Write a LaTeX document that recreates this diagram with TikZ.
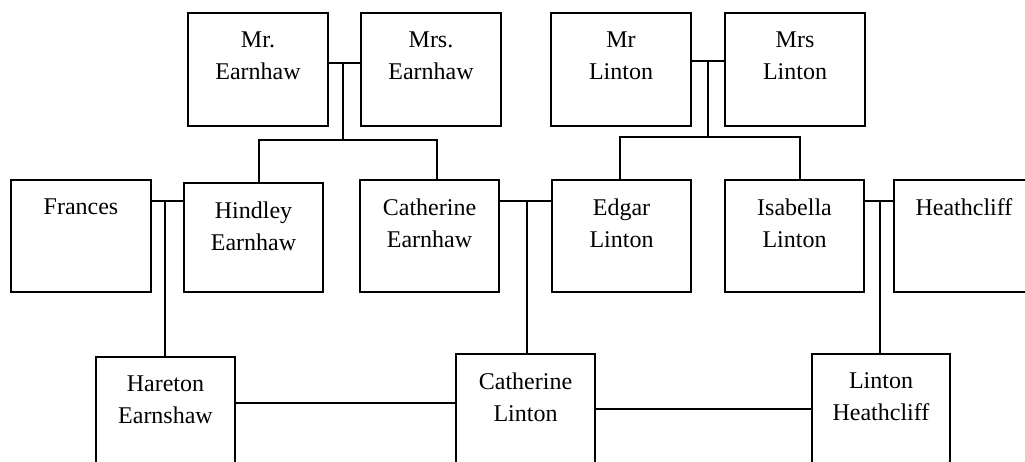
\documentclass[tikz,border=0pt]{standalone}
\usepackage{fontspec}
\setmainfont{Liberation Serif}
\usetikzlibrary{calc}
\tikzset{
  box/.style={draw, line width=1.4pt, minimum width=#1, inner sep=0pt, outer sep=0pt},
  box/.default={140pt},
  lbl/.style={inner sep=0pt, anchor=north, align=center, font=\fontsize{24}{31.7}\selectfont},
  conn/.style={line width=1.5pt}
}
\begin{document}
\begin{tikzpicture}[x=1pt,y=-1pt]
\useasboundingbox (0,0) rectangle (1025,461);
\clip (0,0) rectangle (1025,461);
% top row
\node[box, minimum height=113pt] (mre)  at (258,69.5) {};
\node[box, minimum height=113pt] (mrse) at (431,69.5) {};
\node[box, minimum height=113pt] (mrl)  at (621,69.5) {};
\node[box, minimum height=113pt] (mrsl) at (795,69.5) {};
% middle row
\node[box, minimum height=112pt] (fran) at (81,236) {};
\node[box=139pt, minimum height=109pt] (hind) at (253.5,237.5) {};
\node[box=139pt, minimum height=112pt] (cate) at (429.5,236) {};
\node[box=139pt, minimum height=112pt] (edg)  at (621.5,236) {};
\node[box=139pt, minimum height=112pt] (isa)  at (794.5,236) {};
\node[box, minimum height=112pt] (hea)  at (964,236) {};
% bottom row
\node[box=139pt, minimum height=112pt] (har)  at (165.5,413) {};
\node[box=139pt, minimum height=112pt] (catl) at (525.5,410) {};
\node[box=138pt, minimum height=112pt] (lh)   at (881,410) {};
% labels
\node[lbl] (mre-t)  at ($(mre.north)+(0,18.5)$)  {Mr.\\Earnhaw};
\node[lbl] (mrse-t) at ($(mrse.north)+(0,18.5)$) {Mrs.\\Earnhaw};
\node[lbl] (mrl-t)  at ($(mrl.north)+(0,18.5)$)  {Mr\\Linton};
\node[lbl] (mrsl-t) at ($(mrsl.north)+(0,18.5)$) {Mrs\\Linton};
\node[lbl] (fran-t) at ($(fran.north)+(0,18.5)$) {Frances};
\node[lbl] (hind-t) at ($(hind.north)+(0,18.5)$) {Hindley\\Earnhaw};
\node[lbl] (cate-t) at ($(cate.north)+(0,18.5)$) {Catherine\\Earnhaw};
\node[lbl] (edg-t)  at ($(edg.north)+(0,18.5)$)  {Edgar\\Linton};
\node[lbl] (isa-t)  at ($(isa.north)+(0,18.5)$)  {Isabella\\Linton};
\node[lbl] (hea-t)  at ($(hea.north)+(0,18.5)$)  {Heathcliff};
\node[lbl] (har-t)  at ($(har.north)+(0,18.5)$)  {Hareton\\Earnshaw};
\node[lbl] (catl-t) at ($(catl.north)+(0,18.5)$) {Catherine\\Linton};
\node[lbl] (lh-t)   at ($(lh.north)+(0,18.5)$)   {Linton\\Heathcliff};
% junction coordinates
\coordinate (m1) at (343,63);  \coordinate (j1) at (343,140);
\coordinate (j1l) at (259,140); \coordinate (j1r) at (437,140);
\coordinate (m2) at (708,61);  \coordinate (j2) at (708,137);
\coordinate (j2l) at (620,137); \coordinate (j2r) at (800,137);
\coordinate (m3) at (165,201);
\coordinate (m4) at (527,201);
\coordinate (m5) at (880,201);
\coordinate (b1) at (0,403);
\coordinate (b2) at (0,409);
% Earnhaw parents
\draw[conn] (mre.east |- m1) -- (mrse.west |- m1);
\draw[conn] (m1) -- (j1);
\draw[conn] (hind.north -| j1l) -- (j1l) -- (j1r) -- (cate.north -| j1r);
% Linton parents
\draw[conn] (mrl.east |- m2) -- (mrsl.west |- m2);
\draw[conn] (m2) -- (j2);
\draw[conn] (edg.north -| j2l) -- (j2l) -- (j2r) -- (isa.north -| j2r);
% middle marriages
\draw[conn] (fran.east |- m3) -- (hind.west |- m3);
\draw[conn] (m3) -- (har.north -| m3);
\draw[conn] (cate.east |- m4) -- (edg.west |- m4);
\draw[conn] (m4) -- (catl.north -| m4);
\draw[conn] (isa.east |- m5) -- (hea.west |- m5);
\draw[conn] (m5) -- (lh.north -| m5);
% bottom links
\draw[conn] (har.east |- b1) -- (catl.west |- b1);
\draw[conn] (catl.east |- b2) -- (lh.west |- b2);
\end{tikzpicture}
\end{document}
